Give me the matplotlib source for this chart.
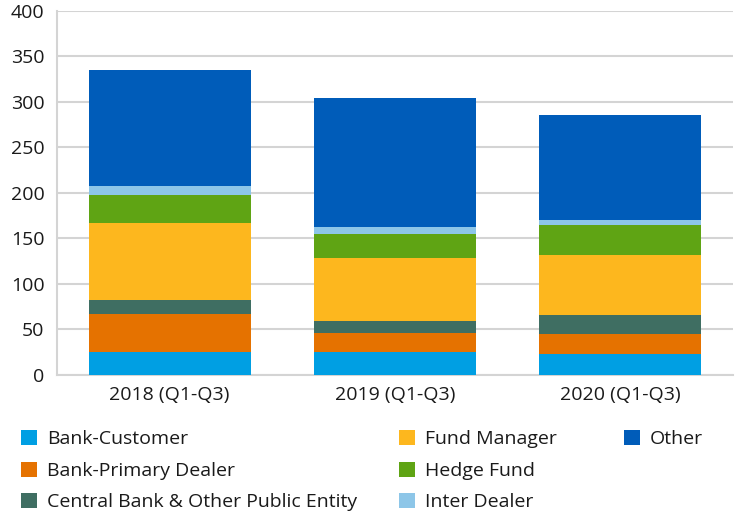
import numpy as np
import matplotlib.pyplot as plt

plt.rcParams['font.family'] = ['Open Sans', 'DejaVu Sans']

# ── Data ──
periods = ["2018 (Q1-Q3)", "2019 (Q1-Q3)", "2020 (Q1-Q3)"]
bank_customer   = [25, 25, 23]
primary_dealer  = [42, 20.5, 22]
central_bank    = [15, 13, 20]
fund_manager    = [85, 69.5, 67]
hedge_fund      = [30, 26.5, 32]
inter_dealer    = [10, 8, 6.5]
other           = [128, 142, 115]

series = [
    ("Bank-Customer", bank_customer, "#009fe3"),
    ("Bank-Primary Dealer", primary_dealer, "#e57200"),
    ("Central Bank & Other Public Entity", central_bank, "#3f6e62"),
    ("Fund Manager", fund_manager, "#fdb71e"),
    ("Hedge Fund", hedge_fund, "#5fa414"),
    ("Inter Dealer", inter_dealer, "#8dc6e8"),
    ("Other", other, "#005cb9"),
]

fig = plt.figure(figsize=(7.36, 5.15), dpi=100)
ax = fig.add_axes([57 / 736, 1 - 374.5 / 515, 676 / 736, 363.5 / 515])

x = np.arange(len(periods))
bottom = np.zeros(len(periods))
bars = []
for name, vals, col in series:
    b = ax.bar(x, vals, bottom=bottom, width=0.72, color=col, label=name, zorder=3)
    bars.append(b)
    bottom += np.array(vals)

ax.set_xlim(-0.5, 2.5)
ax.set_ylim(0, 400)
ax.set_yticks(np.arange(0, 401, 50))
ax.set_xticks(x)
ax.set_xticklabels(periods)
ax.yaxis.grid(True, color="#d4d4d4", linewidth=1.5, zorder=0)
for s in ["top", "right"]:
    ax.spines[s].set_visible(False)
for s in ["left", "bottom"]:
    ax.spines[s].set_color("#d4d4d4")
    ax.spines[s].set_linewidth(1.5)
ax.tick_params(length=0, labelsize=14, colors="#1a1a1a")
ax.tick_params(axis="y", pad=9)
ax.tick_params(axis="x", pad=8)

# ── Legend: three columns placed by hand ──
names = [s[0] for s in series]
groups = [(0, 3, 21), (3, 6, 399), (6, 7, 624)]
for i0, i1, xpx in groups:
    leg = fig.legend(bars[i0:i1], names[i0:i1], loc="upper left",
                     bbox_to_anchor=(xpx / 736, 1 - 430 / 515),
                     frameon=False, fontsize=14, handlelength=0.82,
                     handleheight=0.82, handletextpad=0.5, labelspacing=0.68,
                     borderaxespad=0, borderpad=0)
    for t in leg.get_texts():
        t.set_color("#1a1a1a")

plt.savefig("out.png", dpi=100)
